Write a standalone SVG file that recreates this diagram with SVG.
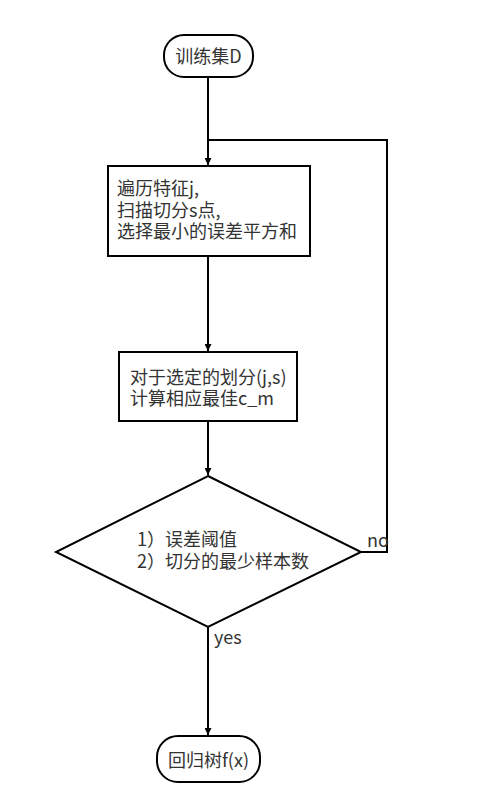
<svg xmlns="http://www.w3.org/2000/svg" width="492" height="805" viewBox="0 0 492 805">
<style>
.shape{fill:#fff;stroke:#000;stroke-width:2}
.edge{fill:none;stroke:#000;stroke-width:2}
text{font-family:"Noto Sans CJK SC","Noto Sans",sans-serif;font-size:18px;fill:#333}
.c{text-anchor:middle}
</style>
<defs>
<marker id="arr" viewBox="0 0 10 10" refX="10" refY="5" markerWidth="3.5" markerHeight="3.5" orient="auto" markerUnits="strokeWidth">
<path d="M0,0 L10,5 L0,10 Z" fill="#000"/>
</marker>
</defs>
<rect width="492" height="805" fill="#fff"/>
<g id="connectors">
<path class="edge" d="M208,77 V165" marker-end="url(#arr)"/>
<path class="edge" d="M208,256 V351" marker-end="url(#arr)"/>
<path class="edge" d="M208,421 V475" marker-end="url(#arr)"/>
<path class="edge" d="M208,627 V735" marker-end="url(#arr)"/>
<path class="edge" d="M361,552 H387 V140 H208"/>
<text x="367" y="547">no</text>
<text x="214" y="644">yes</text>
</g>
<g id="start">
<rect class="shape" x="164" y="35" width="89" height="42" rx="20" ry="20"/>
<text class="c" x="208.5" y="63">训练集D</text>
</g>
<g id="step1">
<rect class="shape" x="108" y="166" width="202" height="90"/>
<text x="117" y="195">遍历特征j,<tspan x="117" dy="21.5">扫描切分s点,</tspan><tspan x="117" dy="21.5">选择最小的误差平方和</tspan></text>
</g>
<g id="step2">
<rect class="shape" x="119" y="352" width="178" height="69"/>
<text x="130" y="384">对于选定的划分(j,s)<tspan x="130" dy="21">计算相应最佳c_m</tspan></text>
</g>
<g id="decision">
<polygon class="shape" points="208,476 361,552 208,627 56,552"/>
<text x="137" y="546">1）误差阈值<tspan x="137" dy="22">2）切分的最少样本数</tspan></text>
</g>
<g id="end">
<rect class="shape" x="157" y="736" width="103" height="46" rx="21" ry="21"/>
<text class="c" x="208.5" y="767">回归树f(x)</text>
</g>
</svg>
